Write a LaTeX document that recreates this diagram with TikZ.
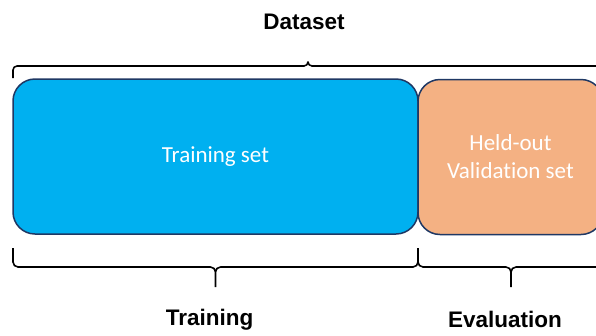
\documentclass[tikz,border=0pt]{standalone}
\usepackage{fontspec}
\setmainfont{Carlito}[Ligatures=NoCommon]
\newfontfamily\headfont{Liberation Sans}
\tikzset{
  part/.style={draw=partedge, line width=1.5pt, rounded corners=22pt, inner sep=0pt,
    text=white, align=center, font=\fontsize{23}{28}\selectfont},
  bracket/.style={draw=black, line width=1.6pt, line join=round},
  heading/.style={font=\headfont\bfseries\fontsize{22.5}{26}\selectfont, text=black, inner sep=0pt}
}
\definecolor{partedge}{HTML}{1F3864}
\definecolor{trainblue}{HTML}{00B0F0}
\definecolor{holdorange}{HTML}{F4B183}
\begin{document}
\begin{tikzpicture}[x=1pt,y=-1pt]
  \useasboundingbox (0,0) rectangle (596,335);
  \clip (0,0) rectangle (596,335);
  \fill[white] (0,0) rectangle (596,335);

  % the two parts of the data
  \node[part, fill=trainblue, minimum width=405pt, minimum height=155pt] (train) at (215.5,156.5) {Training set};
  \node[part, fill=holdorange, minimum width=185pt, minimum height=155pt] (valid) at (510.5,157) {Held-out\\Validation set};

  % brace over the whole dataset
  \coordinate (dl) at (13,78);
  \coordinate (dr) at (603,78);
  \coordinate (dtip) at (308,62);
  \draw[bracket] (dl) -- (13,70) .. controls (13,67.8) and (14.8,66) .. (17,66) -- (304,66)
    .. controls (306.2,66) and (308,64.2) .. (dtip)
    .. controls (308,64.2) and (309.8,66) .. (312,66) -- (599,66)
    .. controls (601.2,66) and (603,67.8) .. (603,70) -- (dr);
  \node[heading] (dataset) at (304,22) {Dataset};

  % braces under the training and evaluation parts
  \coordinate (tl) at (13,248);
  \coordinate (mid) at (418,248);
  \coordinate (er) at (604,248);
  \coordinate (ttip) at (215.5,287);
  \coordinate (etip) at (511,287);
  \draw[bracket] (tl) -- (13,262) .. controls (13,264.75) and (15.25,267) .. (18,267) -- (210.5,267)
    .. controls (213.25,267) and (215.5,269.25) .. (215.5,272) -- (ttip)
    (ttip) -- (215.5,272) .. controls (215.5,269.25) and (217.75,267) .. (220.5,267) -- (413,267)
    .. controls (415.75,267) and (418,264.75) .. (418,262) -- (mid);
  \draw[bracket] (mid) -- (418,262) .. controls (418,264.75) and (420.25,267) .. (423,267) -- (506,267)
    .. controls (508.75,267) and (511,269.25) .. (511,272) -- (etip)
    (etip) -- (511,272) .. controls (511,269.25) and (513.25,267) .. (516,267) -- (599,267)
    .. controls (601.75,267) and (604,264.75) .. (604,262) -- (er);
  \node[heading] (training) at (209.5,320) {Training};
  \node[heading] (evaluation) at (505,319) {Evaluation};
\end{tikzpicture}
\end{document}
